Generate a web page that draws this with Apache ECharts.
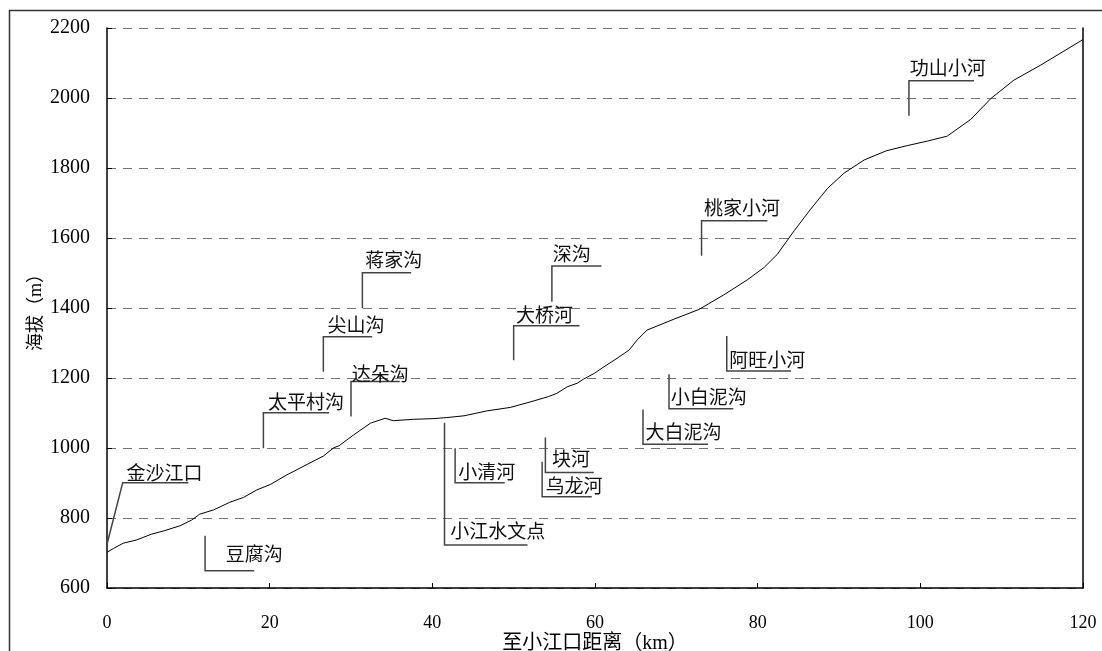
<!DOCTYPE html>
<html>
<head>
<meta charset="utf-8">
<script src="https://cdn.jsdelivr.net/npm/echarts@6/dist/echarts.min.js"></script>
<style>html,body{margin:0;padding:0;background:#fff;}#c{width:1102px;height:651px;}</style>
</head>
<body>
<div id="c"></div>
<script>
// Longitudinal profile: distance from Xiaojiang mouth (km) vs elevation (m)
const distanceKm = [0,0.8,2.0,3.6,5.5,7.1,9.0,10.4,11.4,13.1,15.1,16.8,18.4,20.1,22.1,24.6,26.6,27.9,28.5,30.3,32.4,34.2,35.2,37.7,40.2,41.8,43.9,46.7,49.6,52.1,54.3,55.3,56.6,57.8,58.6,59.9,61.1,62.7,64.2,65.2,66.4,69.7,72.8,75.8,78.7,80.8,82.4,84.5,86.5,88.6,90.6,93.1,95.8,98.4,100.9,103.3,106.2,108.7,111.5,114.8,120];
const elevationM = [702,713,728,737,754,764,778,794,811,823,845,859,880,896,923,953,977,1001,1006,1037,1071,1085,1078,1082,1084,1087,1092,1106,1116,1132,1147,1156,1175,1185,1197,1213,1232,1256,1280,1309,1337,1368,1396,1437,1480,1516,1553,1621,1682,1742,1785,1823,1849,1864,1877,1891,1939,1999,2051,2094,2167];

// Callout annotations (data coordinates)
const calloutNames   = ['金沙江口','豆腐沟','太平村沟','达朵沟','尖山沟','蒋家沟','小江水文点','小清河','块河','乌龙河','大桥河','深沟','大白泥沟','小白泥沟','阿旺小河','桃家小河','功山小河'];
const calloutStartKm = [0,12.06,19.23,30.0,26.6,31.4,41.5,42.8,53.9,53.5,50.0,54.7,65.9,69.1,76.2,73.1,98.6];
const calloutStartM  = [725,749,999,1090,1218,1399,1072,999,1030,961,1251,1418,1110,1211,1320,1549,1949];
const calloutElbowKm = [1.93,12.06,19.23,30.0,26.6,31.4,41.5,42.8,53.9,53.5,50.0,54.7,65.9,69.1,76.2,73.1,98.6];
const calloutElbowM  = [901,649,1101,1190,1318,1501,723,901,930,861,1349,1520,1011,1112,1220,1649,2049];
const calloutEndKm   = [10.0,18.1,27.3,36.0,32.6,37.4,51.7,48.9,59.85,59.6,58.1,60.8,73.9,77.0,84.1,81.2,106.6];
const labelKm        = [2.4,14.6,19.8,30.1,27.1,31.75,42.2,43.2,54.7,53.9,50.3,54.8,66.2,69.3,76.5,73.4,98.7];
const labelM         = [929,699,1132,1211,1351,1537,763,932,970,891,1380,1556,1047,1145,1251,1685,2086];

const xTicks = {min:0, max:120, interval:20};
const yTicks = {min:600, max:2200, interval:200};

const profileData = distanceKm.map((d,i)=>[d, elevationM[i]]);
const calloutData = calloutNames.map((n,i)=>({name:n, value:[calloutStartKm[i],calloutStartM[i],calloutElbowKm[i],calloutElbowM[i],calloutEndKm[i],labelKm[i],labelM[i]]}));

const serif = "'Liberation Serif', 'Times New Roman', serif";
const cjk = "'Liberation Serif', 'Noto Sans CJK SC', serif";

const chart = echarts.init(document.getElementById('c'), null, {renderer:'canvas'});
chart.setOption({
  animation:false,
  backgroundColor:'#fff',
  graphic:[{type:'rect', shape:{x:9.5,y:10.5,width:1100,height:660}, style:{fill:null, stroke:'#333', lineWidth:1.5}, silent:true, z:-1}],
  grid:{left:107, right:19, top:28, bottom:63, containLabel:false, outerBoundsMode:'none'},
  xAxis:{
    type:'value', min:xTicks.min, max:xTicks.max, interval:xTicks.interval,
    name:'至小江口距离（km）', nameLocation:'middle', nameGap:46, nameMoveOverlap:false,
    nameTextStyle:{fontFamily:cjk, fontSize:20, color:'#000'},
    axisLine:{show:true, onZero:false, lineStyle:{color:'#000', width:1.5}},
    axisTick:{show:true, inside:true, length:5, lineStyle:{color:'#000'}},
    axisLabel:{margin:26, fontFamily:serif, fontSize:18, color:'#000', formatter:v=>String(v)},
    splitLine:{show:false}
  },
  yAxis:[{
    type:'value', min:yTicks.min, max:yTicks.max, interval:yTicks.interval,
    name:'海拔（m）', nameLocation:'middle', nameGap:62, nameRotate:90, nameMoveOverlap:false,
    nameTextStyle:{fontFamily:cjk, fontSize:18, color:'#000'},
    axisLine:{show:true, lineStyle:{color:'#000', width:1.5}},
    axisTick:{show:true, inside:true, length:5, lineStyle:{color:'#000'}},
    axisLabel:{margin:17, fontFamily:serif, fontSize:20, color:'#000', formatter:v=>String(v)},
    splitLine:{show:true, lineStyle:{color:'#777', type:[9,7], width:1}}
  },{
    type:'value', position:'right', min:yTicks.min, max:yTicks.max, interval:yTicks.interval,
    axisLine:{show:true, lineStyle:{color:'#000', width:1.5}},
    axisTick:{show:false}, axisLabel:{show:false}, splitLine:{show:false}
  }],
  series:[{
    type:'line', data:profileData, showSymbol:false, symbol:'none',
    lineStyle:{color:'#000', width:1}, z:3
  },{
    type:'custom', data:calloutData, encode:{x:[0,2,4,5], y:[1,3,6]}, z:4,
    renderItem:function(params, api){
      const s = api.coord([api.value(0), api.value(1)]);
      const e = api.coord([api.value(2), api.value(3)]);
      const h = api.coord([api.value(4), api.value(3)]);
      const t = api.coord([api.value(5), api.value(6)]);
      return {type:'group', children:[
        {type:'polyline', shape:{points:[s,e,h]}, style:{stroke:'#444', lineWidth:1.5, fill:null}},
        {type:'text', x:t[0], y:t[1], style:{text:calloutNames[params.dataIndex], fontFamily:"'Noto Sans CJK SC'", fontSize:19, fill:'#111', align:'left', verticalAlign:'middle'}}
      ]};
    }
  }]
});
</script>
</body>
</html>
